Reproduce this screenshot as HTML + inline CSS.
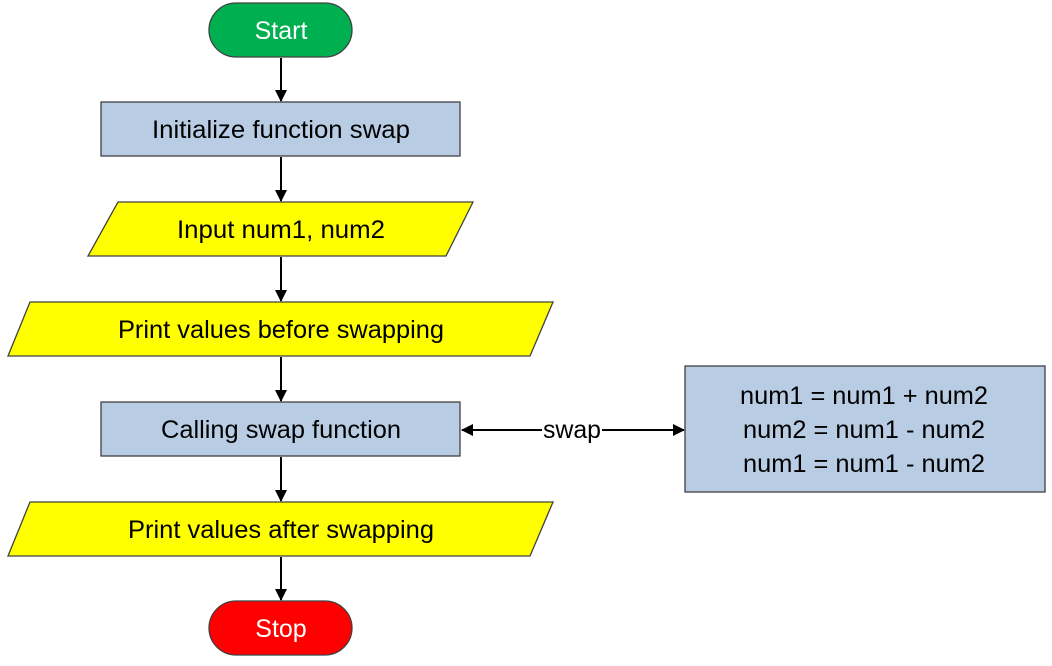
<!DOCTYPE html>
<html><head><meta charset="utf-8"><style>
html,body{margin:0;padding:0;background:#fff;width:1052px;height:666px;overflow:hidden}
</style></head><body>
<svg width="1052" height="666" viewBox="0 0 1052 666" xmlns="http://www.w3.org/2000/svg" font-family="Liberation Sans, sans-serif" font-size="25">
<defs>
<marker id="ah" markerWidth="12" markerHeight="12" refX="11" refY="6" orient="auto" markerUnits="userSpaceOnUse"><path d="M0,0 L12,6 L0,12 z" fill="#000"/></marker>
<marker id="as" markerWidth="12" markerHeight="12" refX="1" refY="6" orient="auto" markerUnits="userSpaceOnUse"><path d="M12,0 L0,6 L12,12 z" fill="#000"/></marker>
</defs>
<g stroke="#000" stroke-width="2" fill="none">
<line x1="281" y1="58" x2="281" y2="101" marker-end="url(#ah)"/>
<line x1="281" y1="157" x2="281" y2="201" marker-end="url(#ah)"/>
<line x1="281" y1="257" x2="281" y2="301" marker-end="url(#ah)"/>
<line x1="281" y1="357" x2="281" y2="401" marker-end="url(#ah)"/>
<line x1="281" y1="457" x2="281" y2="501" marker-end="url(#ah)"/>
<line x1="281" y1="557" x2="281" y2="600" marker-end="url(#ah)"/>
<line x1="462" y1="430" x2="542" y2="430" marker-start="url(#as)"/>
<line x1="602" y1="430" x2="684" y2="430" marker-end="url(#ah)"/>
</g>
<g stroke="#404040" stroke-width="1.3">
<rect x="209" y="3" width="143" height="54" rx="27" fill="#00b050"/>
<rect x="101" y="102" width="359" height="54" fill="#b8cce4"/>
<polygon points="118,202 473,202 446,256 88,256" fill="#ffff00"/>
<polygon points="30,302 553,302 530,356 8,356" fill="#ffff00"/>
<rect x="101" y="402" width="359" height="54" fill="#b8cce4"/>
<polygon points="30,502 553,502 530,556 8,556" fill="#ffff00"/>
<rect x="209" y="601" width="143" height="54" rx="27" fill="#ff0000"/>
<rect x="685" y="366" width="360" height="126" fill="#b8cce4"/>
</g>
<g text-anchor="middle" fill="#000">
<text x="281" y="39" fill="#fff">Start</text>
<text x="281" y="138" textLength="258" lengthAdjust="spacingAndGlyphs">Initialize function swap</text>
<text x="281" y="238" textLength="208" lengthAdjust="spacingAndGlyphs">Input num1, num2</text>
<text x="281" y="338" textLength="326" lengthAdjust="spacingAndGlyphs">Print values before swapping</text>
<text x="281" y="438" textLength="240" lengthAdjust="spacingAndGlyphs">Calling swap function</text>
<text x="281" y="538" textLength="306" lengthAdjust="spacingAndGlyphs">Print values after swapping</text>
<text x="281" y="637" fill="#fff">Stop</text>
<text x="572" y="438" textLength="58" lengthAdjust="spacingAndGlyphs">swap</text>
<text x="864" y="404" textLength="248" lengthAdjust="spacingAndGlyphs">num1 = num1 + num2</text>
<text x="864" y="438" textLength="242" lengthAdjust="spacingAndGlyphs">num2 = num1 - num2</text>
<text x="864" y="472" textLength="242" lengthAdjust="spacingAndGlyphs">num1 = num1 - num2</text>
</g>
</svg>
</body></html>
